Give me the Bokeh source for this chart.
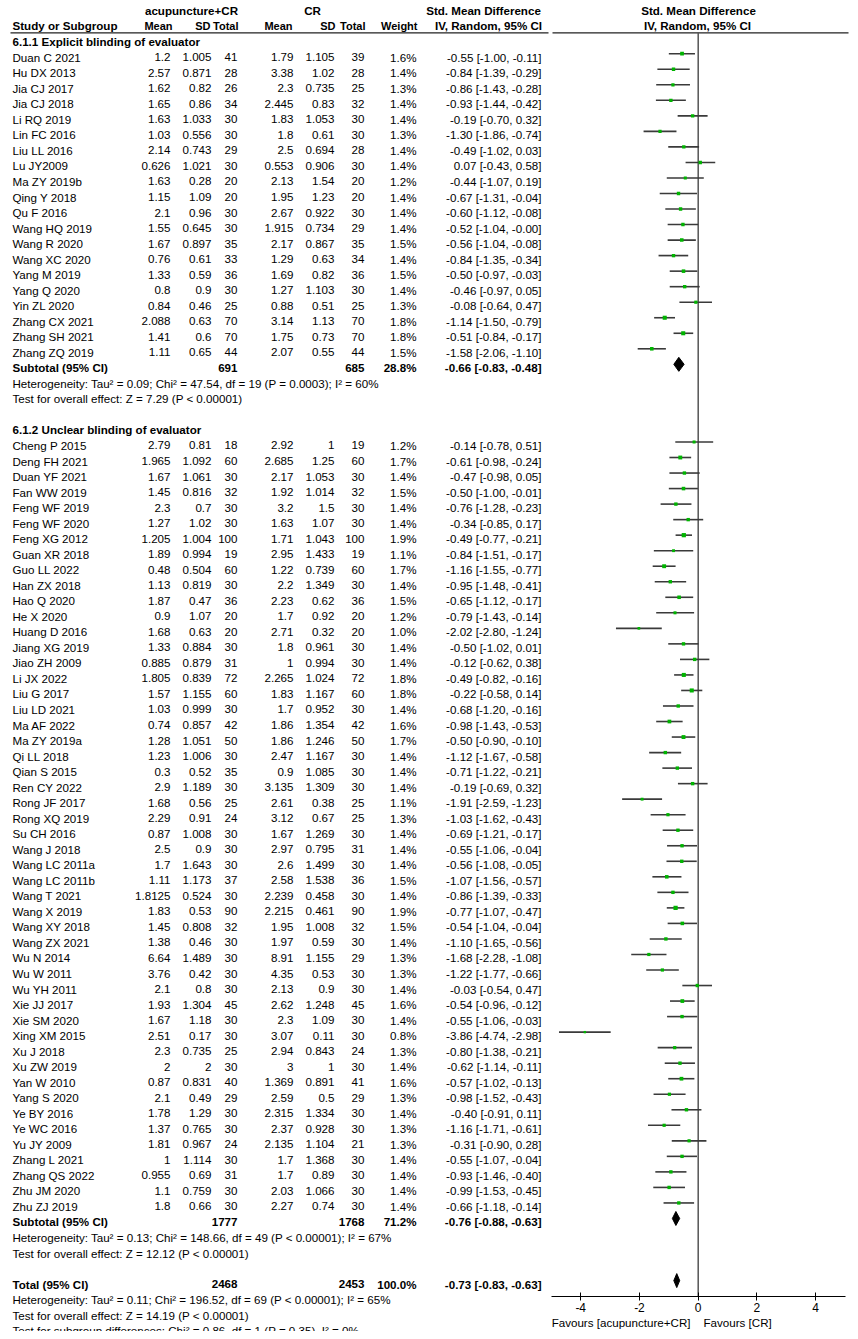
from bokeh.plotting import figure
from bokeh.models import Range1d, FixedTicker, ColumnDataSource
from bokeh.core.properties import value, field
from bokeh.embed import file_html
from bokeh.resources import INLINE

# ---------------- data ----------------
g1_study = ["Duan C 2021", "Hu DX 2013", "Jia CJ 2017", "Jia CJ 2018", "Li RQ 2019", "Lin FC 2016",
            "Liu LL 2016", "Lu JY2009", "Ma ZY 2019b", "Qing Y 2018", "Qu F 2016", "Wang HQ 2019",
            "Wang R 2020", "Wang XC 2020", "Yang M 2019", "Yang Q 2020", "Yin ZL 2020",
            "Zhang CX 2021", "Zhang SH 2021", "Zhang ZQ 2019"]
g1_e_mean = [1.2, 2.57, 1.62, 1.65, 1.63, 1.03, 2.14, 0.626, 1.63, 1.15, 2.1, 1.55, 1.67, 0.76, 1.33, 0.8, 0.84, 2.088, 1.41, 1.11]
g1_e_sd = [1.005, 0.871, 0.82, 0.86, 1.033, 0.556, 0.743, 1.021, 0.28, 1.09, 0.96, 0.645, 0.897, 0.61, 0.59, 0.9, 0.46, 0.63, 0.6, 0.65]
g1_e_n = [41, 28, 26, 34, 30, 30, 29, 30, 20, 20, 30, 30, 35, 33, 36, 30, 25, 70, 70, 44]
g1_c_mean = [1.79, 3.38, 2.3, 2.445, 1.83, 1.8, 2.5, 0.553, 2.13, 1.95, 2.67, 1.915, 2.17, 1.29, 1.69, 1.27, 0.88, 3.14, 1.75, 2.07]
g1_c_sd = [1.105, 1.02, 0.735, 0.83, 1.053, 0.61, 0.694, 0.906, 1.54, 1.23, 0.922, 0.734, 0.867, 0.63, 0.82, 1.103, 0.51, 1.13, 0.73, 0.55]
g1_c_n = [39, 28, 25, 32, 30, 30, 28, 30, 20, 20, 30, 29, 35, 34, 36, 30, 25, 70, 70, 44]
g1_weight = [1.6, 1.4, 1.3, 1.4, 1.4, 1.3, 1.4, 1.4, 1.2, 1.4, 1.4, 1.4, 1.5, 1.4, 1.5, 1.4, 1.3, 1.8, 1.8, 1.5]
g1_smd = [-0.55, -0.84, -0.86, -0.93, -0.19, -1.30, -0.49, 0.07, -0.44, -0.67, -0.60, -0.52, -0.56, -0.84, -0.50, -0.46, -0.08, -1.14, -0.51, -1.58]
g1_lo = [-1.00, -1.39, -1.43, -1.44, -0.70, -1.86, -1.02, -0.43, -1.07, -1.31, -1.12, -1.04, -1.04, -1.35, -0.97, -0.97, -0.64, -1.50, -0.84, -2.06]
g1_hi = [-0.11, -0.29, -0.28, -0.42, 0.32, -0.74, 0.03, 0.58, 0.19, -0.04, -0.08, -0.0, -0.08, -0.34, -0.03, 0.05, 0.47, -0.79, -0.17, -1.10]
g1_sub = {"e_n": 691, "c_n": 685, "w": 28.8, "smd": -0.66, "lo": -0.83, "hi": -0.48}
g1_het = "Heterogeneity: Tau\u00b2 = 0.09; Chi\u00b2 = 47.54, df = 19 (P = 0.0003); I\u00b2 = 60%"
g1_z = "Test for overall effect: Z = 7.29 (P < 0.00001)"

g2_study = ["Cheng P 2015", "Deng FH 2021", "Duan YF 2021", "Fan WW 2019", "Feng WF 2019", "Feng WF 2020",
            "Feng XG 2012", "Guan XR 2018", "Guo LL 2022", "Han ZX 2018", "Hao Q 2020", "He X 2020",
            "Huang D 2016", "Jiang XG 2019", "Jiao ZH 2009", "Li JX 2022", "Liu G 2017", "Liu LD 2021",
            "Ma AF 2022", "Ma ZY 2019a", "Qi LL 2018", "Qian S 2015", "Ren CY 2022", "Rong JF 2017",
            "Rong XQ 2019", "Su CH 2016", "Wang J 2018", "Wang LC 2011a", "Wang LC 2011b", "Wang T 2021",
            "Wang X 2019", "Wang XY 2018", "Wang ZX 2021", "Wu N 2014", "Wu W 2011", "Wu YH 2011",
            "Xie JJ 2017", "Xie SM 2020", "Xing XM 2015", "Xu J 2018", "Xu ZW 2019", "Yan W 2010",
            "Yang S 2020", "Ye BY 2016", "Ye WC 2016", "Yu JY 2009", "Zhang L 2021", "Zhang QS 2022",
            "Zhu JM 2020", "Zhu ZJ 2019"]
g2_e_mean = [2.79, 1.965, 1.67, 1.45, 2.3, 1.27, 1.205, 1.89, 0.48, 1.13, 1.87, 0.9, 1.68, 1.33, 0.885, 1.805, 1.57, 1.03,
             0.74, 1.28, 1.23, 0.3, 2.9, 1.68, 2.29, 0.87, 2.5, 1.7, 1.11, 1.8125, 1.83, 1.45, 1.38, 6.64, 3.76, 2.1,
             1.93, 1.67, 2.51, 2.3, 2, 0.87, 2.1, 1.78, 1.37, 1.81, 1, 0.955, 1.1, 1.8]
g2_e_sd = [0.81, 1.092, 1.061, 0.816, 0.7, 1.02, 1.004, 0.994, 0.504, 0.819, 0.47, 1.07, 0.63, 0.884, 0.879, 0.839, 1.155, 0.999,
           0.857, 1.051, 1.006, 0.52, 1.189, 0.56, 0.91, 1.008, 0.9, 1.643, 1.173, 0.524, 0.53, 0.808, 0.46, 1.489, 0.42, 0.8,
           1.304, 1.18, 0.17, 0.735, 2, 0.831, 0.49, 1.29, 0.765, 0.967, 1.114, 0.69, 0.759, 0.66]
g2_e_n = [18, 60, 30, 32, 30, 30, 100, 19, 60, 30, 36, 20, 20, 30, 31, 72, 60, 30,
          42, 50, 30, 35, 30, 25, 24, 30, 30, 30, 37, 30, 90, 32, 30, 30, 30, 30,
          45, 30, 30, 25, 30, 40, 29, 30, 30, 24, 30, 31, 30, 30]
g2_c_mean = [2.92, 2.685, 2.17, 1.92, 3.2, 1.63, 1.71, 2.95, 1.22, 2.2, 2.23, 1.7, 2.71, 1.8, 1, 2.265, 1.83, 1.7,
             1.86, 1.86, 2.47, 0.9, 3.135, 2.61, 3.12, 1.67, 2.97, 2.6, 2.58, 2.239, 2.215, 1.95, 1.97, 8.91, 4.35, 2.13,
             2.62, 2.3, 3.07, 2.94, 3, 1.369, 2.59, 2.315, 2.37, 2.135, 1.7, 1.7, 2.03, 2.27]
g2_c_sd = [1, 1.25, 1.053, 1.014, 1.5, 1.07, 1.043, 1.433, 0.739, 1.349, 0.62, 0.92, 0.32, 0.961, 0.994, 1.024, 1.167, 0.952,
           1.354, 1.246, 1.167, 1.085, 1.309, 0.38, 0.67, 1.269, 0.795, 1.499, 1.538, 0.458, 0.461, 1.008, 0.59, 1.155, 0.53, 0.9,
           1.248, 1.09, 0.11, 0.843, 1, 0.891, 0.5, 1.334, 0.928, 1.104, 1.368, 0.89, 1.066, 0.74]
g2_c_n = [19, 60, 30, 32, 30, 30, 100, 19, 60, 30, 36, 20, 20, 30, 30, 72, 60, 30,
          42, 50, 30, 30, 30, 25, 25, 30, 31, 30, 36, 30, 90, 32, 30, 29, 30, 30,
          45, 30, 30, 24, 30, 41, 29, 30, 30, 21, 30, 30, 30, 30]
g2_weight = [1.2, 1.7, 1.4, 1.5, 1.4, 1.4, 1.9, 1.1, 1.7, 1.4, 1.5, 1.2, 1.0, 1.4, 1.4, 1.8, 1.8, 1.4,
             1.6, 1.7, 1.4, 1.4, 1.4, 1.1, 1.3, 1.4, 1.4, 1.4, 1.5, 1.4, 1.9, 1.5, 1.4, 1.3, 1.3, 1.4,
             1.6, 1.4, 0.8, 1.3, 1.4, 1.6, 1.3, 1.4, 1.3, 1.3, 1.4, 1.4, 1.4, 1.4]
g2_smd = [-0.14, -0.61, -0.47, -0.50, -0.76, -0.34, -0.49, -0.84, -1.16, -0.95, -0.65, -0.79, -2.02, -0.50, -0.12, -0.49, -0.22, -0.68,
          -0.98, -0.50, -1.12, -0.71, -0.19, -1.91, -1.03, -0.69, -0.55, -0.56, -1.07, -0.86, -0.77, -0.54, -1.10, -1.68, -1.22, -0.03,
          -0.54, -0.55, -3.86, -0.80, -0.62, -0.57, -0.98, -0.40, -1.16, -0.31, -0.55, -0.93, -0.99, -0.66]
g2_lo = [-0.78, -0.98, -0.98, -1.00, -1.28, -0.85, -0.77, -1.51, -1.55, -1.48, -1.12, -1.43, -2.80, -1.02, -0.62, -0.82, -0.58, -1.20,
         -1.43, -0.90, -1.67, -1.22, -0.69, -2.59, -1.62, -1.21, -1.06, -1.08, -1.56, -1.39, -1.07, -1.04, -1.65, -2.28, -1.77, -0.54,
         -0.96, -1.06, -4.74, -1.38, -1.14, -1.02, -1.52, -0.91, -1.71, -0.90, -1.07, -1.46, -1.53, -1.18]
g2_hi = [0.51, -0.24, 0.05, -0.01, -0.23, 0.17, -0.21, -0.17, -0.77, -0.41, -0.17, -0.14, -1.24, 0.01, 0.38, -0.16, 0.14, -0.16,
         -0.53, -0.10, -0.58, -0.21, 0.32, -1.23, -0.43, -0.17, -0.04, -0.05, -0.57, -0.33, -0.47, -0.04, -0.56, -1.08, -0.66, 0.47,
         -0.12, -0.03, -2.98, -0.21, -0.11, -0.13, -0.43, 0.11, -0.61, 0.28, -0.04, -0.40, -0.45, -0.14]
g2_sub = {"e_n": 1777, "c_n": 1768, "w": 71.2, "smd": -0.76, "lo": -0.88, "hi": -0.63}
g2_het = "Heterogeneity: Tau\u00b2 = 0.13; Chi\u00b2 = 148.66, df = 49 (P < 0.00001); I\u00b2 = 67%"
g2_z = "Test for overall effect: Z = 12.12 (P < 0.00001)"

tot = {"e_n": 2468, "c_n": 2453, "w": 100.0, "smd": -0.73, "lo": -0.83, "hi": -0.63}
tot_het = "Heterogeneity: Tau\u00b2 = 0.11; Chi\u00b2 = 196.52, df = 69 (P < 0.00001); I\u00b2 = 65%"
tot_z = "Test for overall effect: Z = 14.19 (P < 0.00001)"
tot_sub = "Test for subgroup differences: Chi\u00b2 = 0.86, df = 1 (P = 0.35), I\u00b2 = 0%"

groups = [("6.1.1 Explicit blinding of evaluator", g1_study, g1_e_mean, g1_e_sd, g1_e_n, g1_c_mean, g1_c_sd, g1_c_n,
           g1_weight, g1_smd, g1_lo, g1_hi, g1_sub, g1_het, g1_z),
          ("6.1.2 Unclear blinding of evaluator", g2_study, g2_e_mean, g2_e_sd, g2_e_n, g2_c_mean, g2_c_sd, g2_c_n,
           g2_weight, g2_smd, g2_lo, g2_hi, g2_sub, g2_het, g2_z)]

tick_values = [-4, -2, 0, 2, 4]
tick_labels = ["-4", "-2", "0", "2", "4"]

# ---------------- layout ----------------
W, H = 850, 1331
PX0 = 0                 # canvas origin in picture pixels
ROW0, PITCH = 41.2, 15.53
LINE_OFF = 3.5
ZERO_PX, UNIT_PX = 697.7, 29.37
AXIS_Y = 1295.7
HDR_LINE_Y = 32.3

def row_y(r):
    return ROW0 + r * PITCH

# column right edges (picture px)
X_NAME = 12
X_EM, X_ESD, X_EN = 170, 211, 237
X_CM, X_CSD, X_CN = 293, 334, 364
X_W, X_CI = 416, 541

x_start = -(ZERO_PX - PX0) / UNIT_PX
x_end = (PX0 + W - ZERO_PX) / UNIT_PX

p = figure(width=W, height=H, output_backend="svg", toolbar_location=None,
           x_range=Range1d(x_start, x_end), y_range=Range1d(PX0 + H, PX0),
           y_axis_location=None, min_border=0, background_fill_color="white",
           border_fill_color="white", outline_line_color=None)
p.extra_x_ranges = {"px": Range1d(PX0, PX0 + W)}
p.grid.visible = False

T = {"x": [], "y": [], "text": [], "align": [], "style": [], "size": []}

def put(x, y, s, align="left", bold=False, size="11.6px"):
    T["x"].append(x); T["y"].append(y); T["text"].append(s)
    T["align"].append(align); T["style"].append("bold" if bold else "normal")
    T["size"].append(size)

def g(v):
    return f"{v:g}"

def ci(s, lo, hi):
    return f"{s:.2f} [{lo:.2f}, {hi:.2f}]"

# header
put(191, 10, "acupuncture+CR", "center", True)
put(312, 10, "CR", "center", True)
put(483, 10, "Std. Mean Difference", "center", True)
put(698, 10, "Std. Mean Difference", "center", True)
put(X_NAME, 25, "Study or Subgroup", "left", True)
for xx, s in [(172, "Mean"), (210, "SD"), (238, "Total"), (292, "Mean"), (335, "SD"), (365, "Total"), (417, "Weight")]:
    put(xx, 25, s, "right", True, "11px")
put(488, 25, "IV, Random, 95% CI", "center", True)
put(697, 25, "IV, Random, 95% CI", "center", True)

ci_x0, ci_x1, ci_y, mk_x, mk_y, mk_s = [], [], [], [], [], []
dia_xs, dia_ys = [], []

def diamond(d, y):
    yc = y - LINE_OFF
    dia_xs.append([d["lo"], d["smd"], d["hi"], d["smd"]])
    dia_ys.append([yc, yc - 7, yc, yc + 7])

r = 0
for (title, st, em, esd, en, cm, csd, cn, w, smd, lo, hi, sub, het, z) in groups:
    put(X_NAME, row_y(r), title, "left", True)
    r += 1
    for i in range(len(st)):
        y = row_y(r)
        put(X_NAME, y, st[i])
        put(X_EM, y, g(em[i]), "right"); put(X_ESD, y, g(esd[i]), "right"); put(X_EN, y, str(en[i]), "right")
        put(X_CM, y, g(cm[i]), "right"); put(X_CSD, y, g(csd[i]), "right"); put(X_CN, y, str(cn[i]), "right")
        put(X_W, y, f"{w[i]:.1f}%", "right")
        put(X_CI, y, ci(smd[i], lo[i], hi[i]), "right")
        ci_x0.append(lo[i]); ci_x1.append(hi[i]); ci_y.append(y - LINE_OFF)
        mk_x.append(smd[i]); mk_y.append(y - LINE_OFF); mk_s.append(1.0 + 1.7 * w[i])
        r += 1
    y = row_y(r)
    put(X_NAME, y, "Subtotal (95% CI)", "left", True)
    put(X_EN, y, str(sub["e_n"]), "right", True)
    put(X_CN, y, str(sub["c_n"]), "right", True)
    put(X_W, y, f"{sub['w']:.1f}%", "right", True)
    put(X_CI, y, ci(sub["smd"], sub["lo"], sub["hi"]), "right", True)
    diamond(sub, y)
    r += 1
    put(X_NAME, row_y(r), het); r += 1
    put(X_NAME, row_y(r), z); r += 2

y = row_y(r)
put(X_NAME, y, "Total (95% CI)", "left", True)
put(X_EN, y, str(tot["e_n"]), "right", True)
put(X_CN, y, str(tot["c_n"]), "right", True)
put(X_W, y, f"{tot['w']:.1f}%", "right", True)
put(X_CI, y, ci(tot["smd"], tot["lo"], tot["hi"]), "right", True)
diamond(tot, y)
r += 1
put(X_NAME, row_y(r), tot_het); r += 1
put(X_NAME, row_y(r), tot_z); r += 1
put(X_NAME, row_y(r), tot_sub)

put(690, 1322, "Favours [acupuncture+CR]", "right")
put(703, 1322, "Favours [CR]", "left")

# header rule
p.segment(x0=[10, 552], y0=[HDR_LINE_Y, HDR_LINE_Y], x1=[548, 848], y1=[HDR_LINE_Y, HDR_LINE_Y],
          x_range_name="px", line_color="#222222", line_width=1.2)
# line of no effect
p.segment(x0=[0], y0=[HDR_LINE_Y], x1=[0], y1=[AXIS_Y], line_color="#555555", line_width=1.5)

# study CIs and markers
p.segment(x0=ci_x0, y0=ci_y, x1=ci_x1, y1=ci_y, line_color="#3a3a3a", line_width=1.6)
p.scatter(x=mk_x, y=mk_y, size=mk_s, marker="square", fill_color="#00b400", line_color=None)
p.patches(xs=dia_xs, ys=dia_ys, fill_color="black", line_color="black", line_width=1)

src = ColumnDataSource(T)
p.text(x="x", y="y", text="text", source=src, x_range_name="px",
       text_align=field("align"), text_font_style=field("style"), text_baseline="middle",
       text_font=value("Liberation Sans"), text_font_size=field("size"), text_color="black")

ax = p.xaxis[0]
ax.fixed_location = AXIS_Y
ax.bounds = (-5, 5)
ax.ticker = FixedTicker(ticks=tick_values, minor_ticks=[])
ax.major_label_overrides = {v: s for v, s in zip(tick_values, tick_labels)}
ax.axis_line_color = "black"
ax.axis_line_width = 1.2
ax.major_tick_line_color = "black"
ax.major_tick_in = 4
ax.major_tick_out = 4
ax.minor_tick_line_color = None
ax.major_label_standoff = 3
ax.major_label_text_font = "Liberation Sans"
ax.major_label_text_font_size = "12px"
ax.major_label_text_color = "black"

open("out.html", "w").write(file_html(p, INLINE))
